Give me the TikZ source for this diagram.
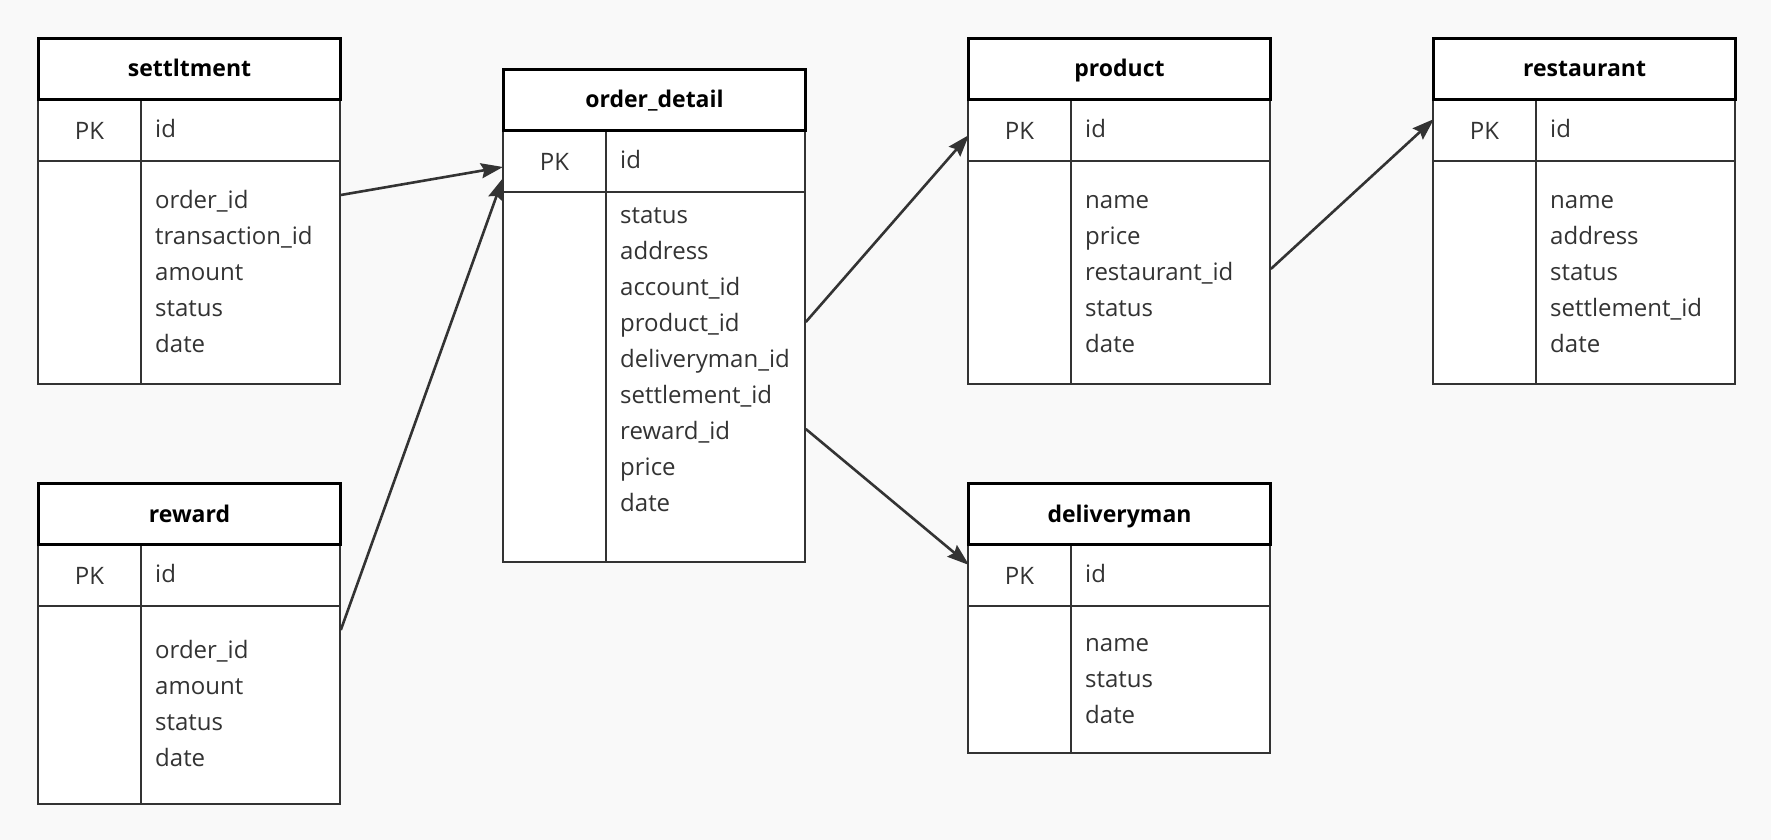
\documentclass[tikz,border=0pt]{standalone}
\usepackage{fontspec}
\setmainfont{Open Sans}
\usetikzlibrary{arrows.meta,calc}
\definecolor{bg}{HTML}{F9F9F9}
\definecolor{ink}{HTML}{333333}
\tikzset{
  hdr/.style={draw=black, line width=3pt, fill=white, minimum width=302pt, minimum height=61pt, inner sep=0pt, text height=21pt, text depth=5pt, font=\fontsize{23}{28}\selectfont\bfseries, text=black},
  cellbox/.style={draw=ink, line width=1.8pt, fill=white, inner sep=0pt},
  field/.style={inner sep=0pt, font=\fontsize{24}{28}\selectfont, text=ink},
  conn/.style={draw=ink, line width=2.6pt, -{Stealth[length=22pt,width=15pt,inset=3pt]}},
}
% #1 id, #2 left x, #3 top y, #4 title, #5 body height, #6 first baseline offset, #7 fields
\newcommand{\ertable}[7]{%
  \node[cellbox, minimum width=103pt, minimum height=62pt, anchor=north west] (#1-pkl) at (#2,#3+61) {};
  \node[cellbox, minimum width=199pt, minimum height=62pt, anchor=north west] (#1-pk) at (#2+103,#3+61) {};
  \node[cellbox, minimum width=103pt, minimum height=#5pt, anchor=north west] (#1-bl) at (#2,#3+123) {};
  \node[cellbox, minimum width=199pt, minimum height=#5pt, anchor=north west] (#1-b) at (#2+103,#3+123) {};
  \node[hdr, anchor=north west] (#1-h) at (#2,#3) {#4};
  \node[field] (#1-pkt) at ($(#1-pkl.center)+(0,1)$) {PK};
  \node[field, anchor=base west] (#1-idt) at ($(#1-pk.west)+(15,8)$) {id};
  \foreach \f [count=\i] in {#7} {
    \node[field, anchor=base west] (#1-f\i) at ($(#1-b.north west)+(15,#6+36*\i-36)$) {\f};
  }
}
\begin{document}
\begin{tikzpicture}[x=1pt,y=-1pt]
\useasboundingbox (0,0) rectangle (1771,840);
\fill[bg] (0,0) rectangle (1771,840);

\ertable{s}{37}{37}{settltment}{223}{48}{order\_id,transaction\_id,amount,status,date}
\ertable{o}{502}{68}{order\_detail}{370}{32}{status,address,account\_id,product\_id,deliveryman\_id,settlement\_id,reward\_id,price,date}
\ertable{p}{967}{37}{product}{223}{48}{name,price,restaurant\_id,status,date}
\ertable{re}{1432}{37}{restaurant}{223}{48}{name,address,status,settlement\_id,date}
\ertable{r}{37}{482}{reward}{198}{53}{order\_id,amount,status,date}
\ertable{d}{967}{482}{deliveryman}{147}{46}{name,status,date}

\draw[conn] ($(s-b.north east)+(0,35)$) -- ($(o-pkl.north west)+(1,38)$);
\draw[conn] ($(r-b.north east)+(0,25)$) -- ($(o-pkl.north west)+(1,49)$);
\draw[conn] ($(o-b.north east)+(0,131)$) -- ($(p-pkl.north west)+(2,37)$);
\draw[conn] ($(o-b.north east)+(0,238)$) -- ($(d-pkl.north west)+(2,22)$);
\draw[conn] ($(p-b.north east)+(0,109)$) -- ($(re-pkl.north west)+(2,21)$);
\end{tikzpicture}
\end{document}
